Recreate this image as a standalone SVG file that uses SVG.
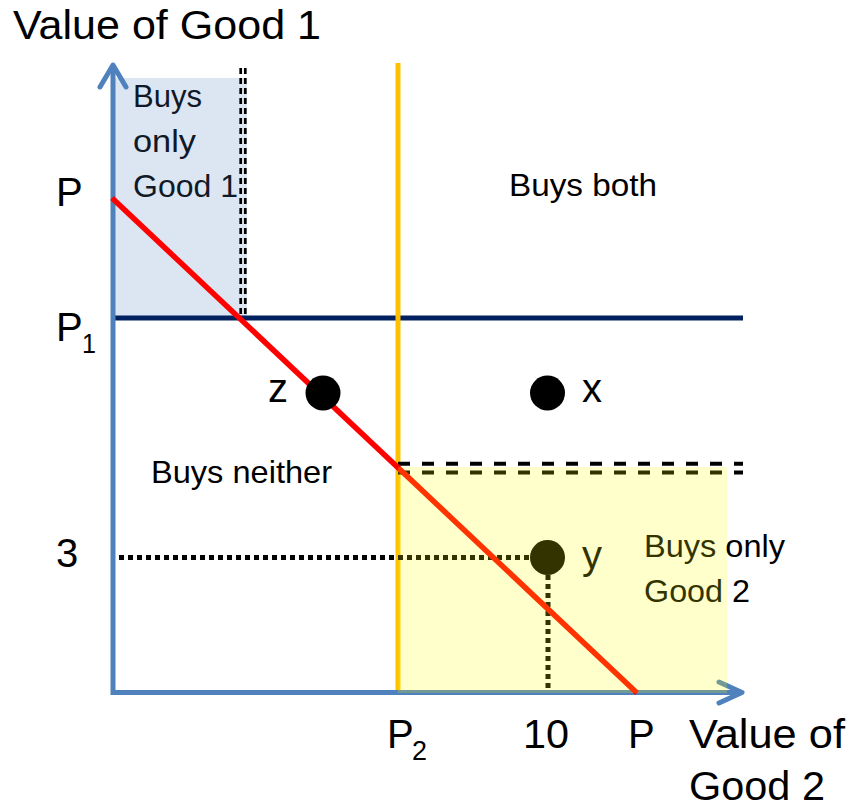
<svg xmlns="http://www.w3.org/2000/svg" width="852" height="808" viewBox="0 0 852 808">
<style>
text{font-family:"Liberation Sans",Arial,sans-serif;fill:#000}
.big{font-size:40px}
.reg{font-size:32px}
.axis{stroke:#4F81BD;stroke-width:5;fill:none}
.head{stroke:#4F81BD;stroke-width:5;fill:none;stroke-linecap:round;stroke-linejoin:round}
.dash1{stroke:#000;stroke-width:2.7;stroke-dasharray:6 4;fill:none}
.dash2{stroke:#000;stroke-width:4;stroke-dasharray:12 12;fill:none}
.dot{stroke:#000;stroke-width:5;stroke-dasharray:5 4;fill:none}
.pt{fill:#000}
</style>
<rect width="852" height="808" fill="#fff"/>

<g id="region-good1">
<text class="reg" x="133" y="107" textLength="69" lengthAdjust="spacingAndGlyphs">Buys</text>
<text class="reg" x="133" y="152" textLength="63" lengthAdjust="spacingAndGlyphs">only</text>
<text class="reg" x="133" y="197" textLength="105" lengthAdjust="spacingAndGlyphs">Good 1</text>
<rect x="113" y="78" width="134" height="240" fill="#4F81BD" fill-opacity="0.2"/>
</g>

<g id="labels">
<text class="big" x="13" y="39" font-size="38" textLength="308" lengthAdjust="spacingAndGlyphs">Value of Good 1</text>
<text class="big" x="56" y="206">P</text>
<g id="label-P1"><text class="big" x="56" y="341">P</text><text x="82" y="353" font-size="27" textLength="14" lengthAdjust="spacingAndGlyphs">1</text></g>
<text class="big" x="56" y="567">3</text>
<g id="label-P2"><text class="big" x="387" y="748">P</text><text x="412" y="760" font-size="27" textLength="15" lengthAdjust="spacingAndGlyphs">2</text></g>
<text class="big" x="523" y="748" textLength="46" lengthAdjust="spacingAndGlyphs">10</text>
<text class="big" x="628" y="748">P</text>
<text class="big" x="689" y="748" textLength="156" lengthAdjust="spacingAndGlyphs">Value of</text>
<text class="big" x="689" y="800" textLength="136" lengthAdjust="spacingAndGlyphs">Good 2</text>
</g>

<g id="region-both"><text class="reg" x="509" y="196" textLength="148" lengthAdjust="spacingAndGlyphs">Buys both</text></g>
<g id="region-neither"><text class="reg" x="151" y="483" textLength="181" lengthAdjust="spacingAndGlyphs">Buys neither</text></g>
<g id="region-good2-text">
<text class="reg" x="644" y="557" textLength="141" lengthAdjust="spacingAndGlyphs">Buys only</text>
<text class="reg" x="644" y="602" textLength="106" lengthAdjust="spacingAndGlyphs">Good 2</text>
</g>

<g id="connectors">
<line class="dash1" x1="240.7" y1="68" x2="240.7" y2="318"/>
<line class="dash1" x1="245.3" y1="68" x2="245.3" y2="318"/>
<line x1="113" y1="318" x2="743" y2="318" stroke="#002060" stroke-width="5"/>
<line x1="398" y1="63" x2="398" y2="692" stroke="#FFC000" stroke-width="5"/>
<line class="dash2" x1="398" y1="463.7" x2="743" y2="463.7"/>
<line class="dash2" x1="398" y1="472.5" x2="743" y2="472.5"/>
<line class="dot" x1="119" y1="557.5" x2="540" y2="557.5"/>
<line class="dot" x1="548" y1="575" x2="548" y2="690"/>
<line class="axis" x1="113" y1="695" x2="113" y2="68"/>
<polyline class="head" points="100,87 113,65 126,87"/>
<line class="axis" x1="111" y1="692.5" x2="739" y2="692.5"/>
<polyline class="head" points="719,682 742,692.5 719,703"/>
<line x1="112" y1="198" x2="637" y2="693" stroke="#FF0000" stroke-width="5.5"/>
</g>

<g id="point-z"><circle class="pt" cx="323" cy="393" r="17.5"/><text class="big" x="268" y="402">z</text></g>
<g id="point-x"><circle class="pt" cx="547.5" cy="393" r="17.5"/><text class="big" x="582" y="402">x</text></g>
<g id="point-y"><circle class="pt" cx="547.5" cy="557.5" r="17.5"/><text class="big" x="582" y="569" font-size="42">y</text></g>

<g id="region-good2">
<rect x="398" y="467" width="329" height="226" fill="#FFFF00" fill-opacity="0.2"/>
</g>
</svg>
